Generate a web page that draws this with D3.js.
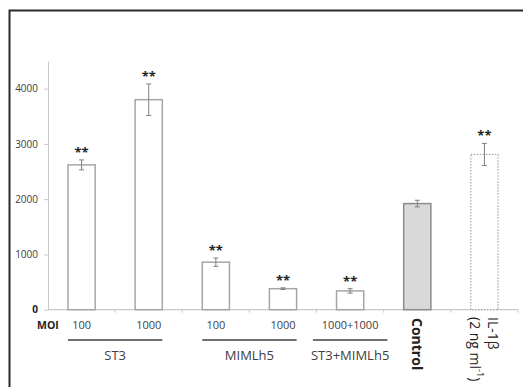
<!DOCTYPE html>
<html>
<head>
<meta charset="utf-8">
<script src="https://cdn.jsdelivr.net/npm/d3@7"></script>
<style>
  html, body { margin: 0; padding: 0; background: #fff; }
  svg { display: block; font-family: "Open Sans", "Liberation Sans", sans-serif; }
</style>
</head>
<body>
<svg id="chart" width="523" height="387"></svg>
<script>
// Cytokine response per treatment: mean, SD, significance flag
const categories = ["ST3 100", "ST3 1000", "MIMLh5 100", "MIMLh5 1000", "ST3+MIMLh5 1000+1000", "Control", "IL-1β"];
const moiLabels = ["100", "1000", "100", "1000", "1000+1000", "", ""];
const values = [2620, 3800, 860, 380, 340, 1920, 2810];
const errors = [90, 285, 75, 15, 40, 60, 200];
const significant = [true, true, true, true, true, false, true];
const groupNames = ["ST3", "MIMLh5", "ST3+MIMLh5"];
const groupOf = [0, 0, 1, 1, 2, null, null];
const yTicks = [0, 1000, 2000, 3000, 4000];
const yMax = 4500;

const svg = d3.select("#chart");
const W = 523, H = 387;
const plot = { left: 48, right: 518, top: 61, bottom: 309.7 };

// outer frame (runs off the right and bottom edges)
svg.append("rect")
  .attr("x", 9.5).attr("y", 10.5)
  .attr("width", W + 20).attr("height", H + 20)
  .attr("fill", "#fff").attr("stroke", "#2a2a2a").attr("stroke-width", 2);

const x = d3.scaleBand().domain(categories).range([plot.left, plot.right]).padding(0);
const y = d3.scaleLinear().domain([0, yMax]).range([plot.bottom, plot.top]);
const barW = x.bandwidth() * 0.405;
const cx = c => x(c) + x.bandwidth() / 2;

// y axis
const yAxis = svg.append("g")
  .attr("transform", `translate(${plot.left},0)`)
  .call(d3.axisLeft(y).tickValues(yTicks).tickFormat(d3.format("d"))
    .tickSize(4).tickSizeOuter(0).tickPadding(6));
yAxis.select(".domain").attr("stroke", "#c8c8c8");
yAxis.selectAll(".tick line").attr("stroke", "#c8c8c8");
yAxis.selectAll(".tick text")
  .attr("font-size", 10).attr("fill", "#404040")
  .attr("font-family", "Open Sans, sans-serif");
yAxis.selectAll(".tick").filter(d => d === 0).select("text")
  .attr("font-weight", "bold").attr("fill", "#222");

// x axis line with ticks on category boundaries
const xAxis = svg.append("g");
xAxis.append("line")
  .attr("x1", plot.left).attr("x2", plot.right)
  .attr("y1", y(0)).attr("y2", y(0))
  .attr("stroke", "#c8c8c8").attr("stroke-width", 1.2);
const bounds = categories.map(c => x(c)).concat([x(categories[categories.length - 1]) + x.bandwidth()]);
xAxis.selectAll("line.tk").data(bounds.slice(1)).join("line")
  .attr("class", "tk")
  .attr("x1", d => d).attr("x2", d => d)
  .attr("y1", y(0)).attr("y2", y(0) + 3)
  .attr("stroke", "#c8c8c8");

// bars
const rows = categories.map((c, i) => ({ c, v: values[i], e: errors[i], sig: significant[i], moi: moiLabels[i], g: groupOf[i] }));

svg.append("g").selectAll("rect").data(rows).join("rect")
  .attr("x", d => cx(d.c) - barW / 2)
  .attr("y", d => y(d.v))
  .attr("width", barW)
  .attr("height", d => y(0) - y(d.v))
  .attr("fill", d => d.c === "Control" ? "#d9d9d9" : "#fff")
  .attr("stroke", d => d.c === "Control" ? "#8c8c8c" : "#a6a6a6")
  .attr("stroke-width", d => d.c === "IL-1β" ? 1.2 : 1.5)
  .attr("stroke-dasharray", d => d.c === "IL-1β" ? "1.5,1.5" : null);

// error bars
const eb = svg.append("g").attr("stroke", "#7f7f7f").attr("stroke-width", 1);
rows.forEach(d => {
  const xc = cx(d.c);
  eb.append("line").attr("x1", xc).attr("x2", xc).attr("y1", y(d.v + d.e)).attr("y2", y(d.v - d.e));
  [d.v + d.e, d.v - d.e].forEach(v =>
    eb.append("line").attr("x1", xc - 2.5).attr("x2", xc + 2.5).attr("y1", y(v)).attr("y2", y(v)));
});

// significance stars
svg.append("g").selectAll("text").data(rows.filter(d => d.sig)).join("text")
  .attr("x", d => cx(d.c))
  .attr("y", d => y(d.v + d.e) - 3)
  .attr("text-anchor", "middle")
  .attr("font-size", 13).attr("font-weight", "bold").attr("fill", "#222")
  .text("**");

// MOI row
const labelY = 329;
svg.append("text")
  .attr("x", 37).attr("y", labelY)
  .attr("font-size", 10.5).attr("font-weight", "bold").attr("fill", "#222")
  .text("MOI");
svg.append("g").selectAll("text").data(rows.filter(d => d.moi)).join("text")
  .attr("x", d => cx(d.c))
  .attr("y", labelY)
  .attr("text-anchor", "middle")
  .attr("font-size", 11).attr("fill", "#404040")
  .text(d => d.moi);

// group names with rules above them
groupNames.forEach((name, gi) => {
  const members = rows.filter(d => d.g === gi);
  const left = d3.min(members, d => cx(d.c) - barW / 2);
  const right = d3.max(members, d => cx(d.c) + barW / 2);
  const mid = (left + right) / 2;
  const t = svg.append("text")
    .attr("x", mid).attr("y", 359.5)
    .attr("text-anchor", "middle")
    .attr("font-size", 13).attr("fill", "#404040")
    .text(name);
  const tw = t.node().getComputedTextLength();
  const half = Math.max((right - left) / 2, tw / 2 - 2);
  svg.append("line")
    .attr("x1", mid - half).attr("x2", mid + half)
    .attr("y1", 340).attr("y2", 340)
    .attr("stroke", "#404040").attr("stroke-width", 1.5);
});

// rotated labels for the reference treatments
svg.append("text")
  .attr("transform", `translate(${cx("Control")},318) rotate(90)`)
  .attr("dominant-baseline", "central")
  .attr("font-size", 14).attr("font-weight", "bold").attr("fill", "#222")
  .text("Control");

const il = svg.append("g")
  .attr("transform", `translate(${cx("IL-1β") + 9},317) rotate(90)`);
il.append("text")
  .attr("dominant-baseline", "central")
  .attr("font-size", 14).attr("fill", "#222")
  .text("IL-1β");
const sub = il.append("text")
  .attr("y", 17)
  .attr("dominant-baseline", "central")
  .attr("font-size", 14).attr("fill", "#222");
sub.append("tspan").text("(2 ng ml");
sub.append("tspan").attr("font-size", 9).attr("dy", -5).text("-1");
sub.append("tspan").attr("dy", 5).text(")");
</script>
</body>
</html>
